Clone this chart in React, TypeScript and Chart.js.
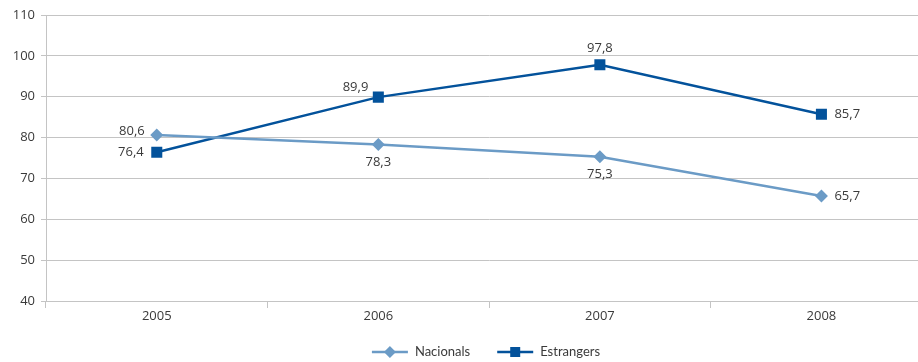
import React, { useEffect, useRef } from "react";
import { Chart, registerables } from "chart.js";

Chart.register(...registerables);

const categories = ["2005", "2006", "2007", "2008"];
const nacionals = [80.6, 78.3, 75.3, 65.7];
const estrangers = [76.4, 89.9, 97.8, 85.7];
const seriesNames = ["Nacionals", "Estrangers"];
const yTicks = [40, 50, 60, 70, 80, 90, 100, 110];

const nacionalsLabelPos = ["leftUp", "below", "below", "right"];
const estrangersLabelPos = ["left", "upLeft", "above", "right"];

const LIGHT = "#6b9bc6";
const DARK = "#03529b";
const GRID = "#c4c4c4";
const TEXT = "#3a3a3a";
const NUM_FONT = "13px 'Open Sans', sans-serif";
const CANVAS_W = 940;
const CANVAS_H = 362;

const placements: Record<string, [number, number, CanvasTextAlign]> = {
  leftUp: [-12, -4, "right"],
  left: [-13, 0, "right"],
  upLeft: [-10, -10, "right"],
  above: [0, -17, "center"],
  below: [0, 18, "center"],
  right: [13, 0, "left"],
};

const fmt = (v: number) => v.toFixed(1).replace(".", ",");

const labelPlugin = {
  id: "valueLabels",
  afterDatasetsDraw(chart: any) {
    const ctx = chart.ctx;
    const posSets = [nacionalsLabelPos, estrangersLabelPos];
    ctx.save();
    ctx.font = NUM_FONT;
    ctx.fillStyle = TEXT;
    ctx.textBaseline = "middle";
    chart.data.datasets.forEach((ds: any, di: number) => {
      const meta = chart.getDatasetMeta(di);
      meta.data.forEach((el: any, i: number) => {
        const p = placements[posSets[di][i]];
        ctx.textAlign = p[2];
        ctx.fillText(fmt(ds.data[i]), el.x + p[0], el.y + p[1]);
      });
    });
    ctx.restore();
  },
};

const legendPlugin = {
  id: "customLegend",
  afterDraw(chart: any) {
    const ctx = chart.ctx;
    ctx.save();
    ctx.font = "13px Lato, sans-serif";
    const lineW = 36;
    const gapText = 7;
    const gapItem = 27;
    const items = chart.data.datasets.map((ds: any) => ({
      ds,
      tw: ctx.measureText(ds.label).width,
    }));
    let total = 0;
    items.forEach((it: any, i: number) => {
      total += lineW + gapText + it.tw + (i < items.length - 1 ? gapItem : 0);
    });
    let x = 486 - total / 2;
    const y = 352;
    items.forEach((it: any) => {
      const ds = it.ds;
      ctx.strokeStyle = ds.borderColor;
      ctx.lineWidth = ds.borderWidth;
      ctx.beginPath();
      ctx.moveTo(x, y);
      ctx.lineTo(x + lineW, y);
      ctx.stroke();
      ctx.fillStyle = ds.pointBackgroundColor;
      const cx = x + lineW / 2;
      ctx.beginPath();
      if (ds.pointStyle === "rectRot") {
        const r = 6;
        ctx.moveTo(cx, y - r);
        ctx.lineTo(cx + r, y);
        ctx.lineTo(cx, y + r);
        ctx.lineTo(cx - r, y);
        ctx.closePath();
      } else {
        const s = 5;
        ctx.rect(cx - s, y - s, 2 * s, 2 * s);
      }
      ctx.fill();
      x += lineW + gapText;
      ctx.fillStyle = TEXT;
      ctx.textAlign = "left";
      ctx.textBaseline = "middle";
      ctx.fillText(ds.label, x, y);
      x += it.tw + gapItem;
    });
    ctx.restore();
  },
};

export default function App() {
  const ref = useRef<HTMLCanvasElement | null>(null);
  useEffect(() => {
    document.body.style.overflow = "hidden";
    const chart = new Chart(ref.current as HTMLCanvasElement, {
      type: "line",
      data: {
        labels: categories,
        datasets: [
          {
            label: seriesNames[0],
            data: nacionals,
            borderColor: LIGHT,
            backgroundColor: LIGHT,
            pointBackgroundColor: LIGHT,
            pointBorderColor: LIGHT,
            borderWidth: 2.5,
            pointStyle: "rectRot",
            pointRadius: 6.5,
            pointBorderWidth: 0,
            tension: 0,
          },
          {
            label: seriesNames[1],
            data: estrangers,
            borderColor: DARK,
            backgroundColor: DARK,
            pointBackgroundColor: DARK,
            pointBorderColor: DARK,
            borderWidth: 2.5,
            pointStyle: "rect",
            pointRadius: 7.8,
            pointBorderWidth: 0,
            tension: 0,
          },
        ],
      },
      options: {
        animation: false,
        responsive: false,
        maintainAspectRatio: false,
        devicePixelRatio: 1,
        layout: { padding: { top: 15, right: 0, left: 0, bottom: 36 } },
        plugins: {
          legend: { display: false },
          tooltip: { enabled: false },
        },
        scales: {
          x: {
            offset: true,
            grid: {
              offset: true,
              drawOnChartArea: false,
              drawTicks: true,
              tickLength: 7,
              color: GRID,
            },
            border: { color: GRID, width: 1 },
            ticks: { font: { family: "'Open Sans', sans-serif", size: 13 }, color: TEXT, padding: 0 },
            afterFit: (s: any) => {
              s.height = 25;
            },
          },
          y: {
            min: 40,
            max: 110,
            afterBuildTicks: (s: any) => {
              s.ticks = yTicks.map((v) => ({ value: v }));
            },
            grid: { color: GRID, tickLength: 5, drawTicks: true },
            border: { color: GRID, width: 1 },
            ticks: {
              font: { family: "'Open Sans', sans-serif", size: 13 },
              color: TEXT,
              padding: 6,
            },
            afterFit: (s: any) => {
              s.width = 46;
            },
          },
        },
      },
      plugins: [labelPlugin, legendPlugin],
    });
    return () => chart.destroy();
  }, []);
  return (
    <div style={{ position: "fixed", left: 0, top: 0, width: CANVAS_W, height: CANVAS_H }}>
      <canvas
        ref={ref}
        width={CANVAS_W}
        height={CANVAS_H}
        style={{ display: "block", width: CANVAS_W, height: CANVAS_H, maxWidth: "none" }}
      />
    </div>
  );
}
